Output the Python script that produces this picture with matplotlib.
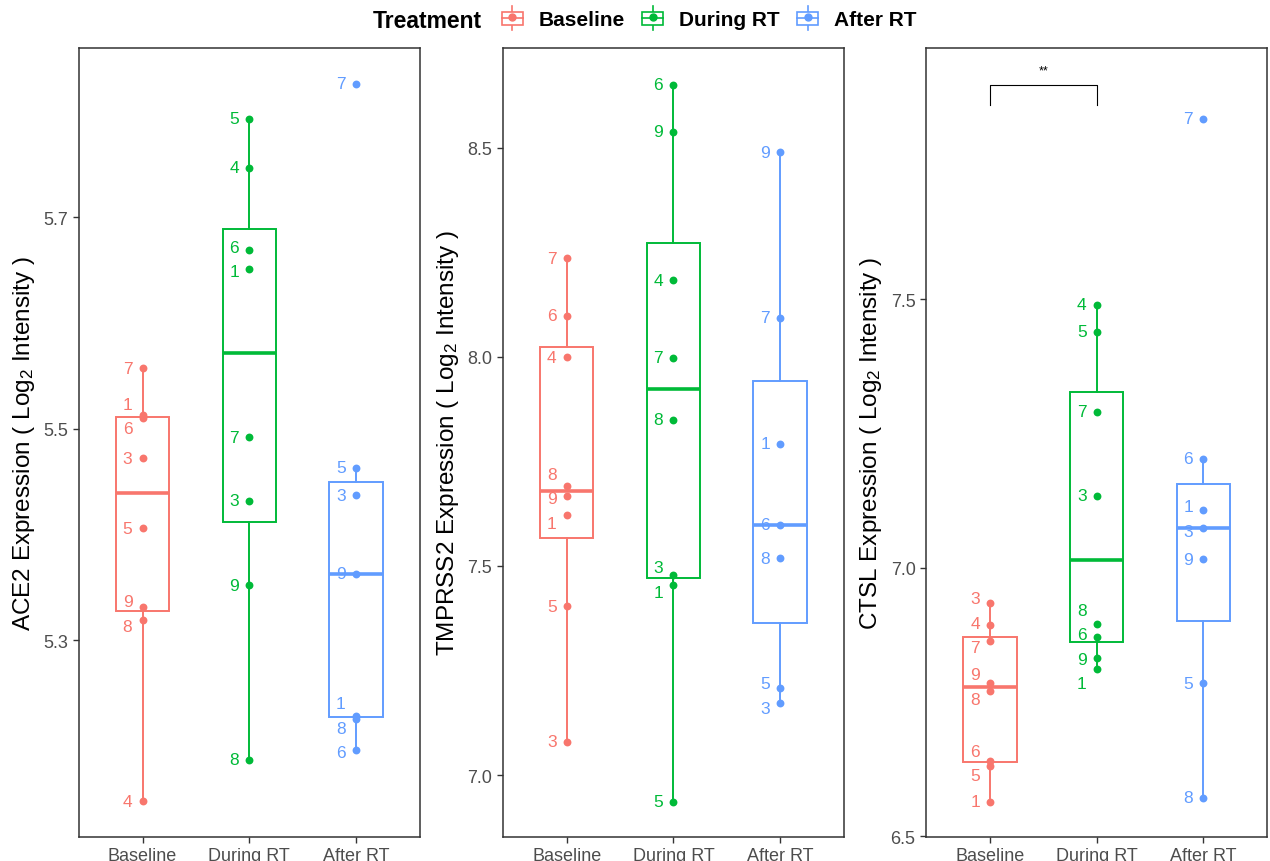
import matplotlib
matplotlib.use('Agg')
import matplotlib.pyplot as plt
import numpy as np
from matplotlib.legend_handler import HandlerBase
from matplotlib.patches import Rectangle
from matplotlib.lines import Line2D

plt.rcParams['font.family'] = ['Liberation Sans', 'DejaVu Sans']
plt.rcParams['mathtext.fontset'] = 'custom'
plt.rcParams['mathtext.rm'] = 'Liberation Sans'
plt.rcParams['mathtext.it'] = 'Liberation Sans:italic'

# groups and colours
groups = ['Baseline', 'During RT', 'After RT']
colors = ['#F8766D', '#00BA38', '#619CFF']

# ACE2 (sample id, value) per group
ace2_ids = [[7, 1, 6, 3, 5, 9, 8, 4],
            [5, 4, 6, 1, 7, 3, 9, 8],
            [7, 5, 3, 9, 1, 8, 6]]
ace2_vals = [[5.557, 5.513, 5.510, 5.472, 5.406, 5.331, 5.319, 5.148],
             [5.793, 5.747, 5.669, 5.651, 5.492, 5.432, 5.352, 5.187],
             [5.826, 5.463, 5.437, 5.363, 5.228, 5.226, 5.196]]

# TMPRSS2
tmp_ids = [[7, 6, 4, 8, 9, 1, 5, 3],
           [6, 9, 4, 7, 8, 3, 1, 5],
           [9, 7, 1, 6, 8, 5, 3]]
tmp_vals = [[8.236, 8.098, 7.999, 7.692, 7.668, 7.622, 7.403, 7.080],
            [8.650, 8.538, 8.183, 7.998, 7.849, 7.478, 7.455, 6.936],
            [8.489, 8.093, 7.792, 7.598, 7.518, 7.207, 7.172]]

# CTSL
ctsl_ids = [[3, 4, 7, 9, 8, 6, 5, 1],
            [4, 5, 7, 3, 8, 6, 9, 1],
            [7, 6, 1, 3, 9, 5, 8]]
ctsl_vals = [[6.935, 6.893, 6.864, 6.786, 6.770, 6.641, 6.631, 6.565],
             [7.490, 7.440, 7.291, 7.134, 6.895, 6.872, 6.832, 6.812],
             [7.836, 7.203, 7.108, 7.074, 7.016, 6.785, 6.572]]

panels = [
    ('ACE2', ace2_ids, ace2_vals, (5.114, 5.860), [5.3, 5.5, 5.7]),
    ('TMPRSS2', tmp_ids, tmp_vals, (6.852, 8.738), [7.0, 7.5, 8.0, 8.5]),
    ('CTSL', ctsl_ids, ctsl_vals, (6.499, 7.968), [6.5, 7.0, 7.5]),
]


def repel(ys, sep):
    # push label positions apart (pixel space), like ggrepel in 1D
    order = np.argsort(ys)
    pos = np.array(ys, dtype=float)[order]
    for _ in range(500):
        moved = False
        for i in range(len(pos) - 1):
            gap = pos[i + 1] - pos[i]
            if gap < sep - 1e-6:
                d = (sep - gap) / 2
                pos[i] -= d
                pos[i + 1] += d
                moved = True
        if not moved:
            break
    out = np.empty_like(pos)
    out[order] = pos
    return out


class BoxHandler(HandlerBase):
    def create_artists(self, legend, orig_handle, xdescent, ydescent,
                       width, height, fontsize, trans):
        c = orig_handle.get_color()
        cx = -xdescent + width / 2
        cy = -ydescent + height / 2
        bw, bh, wh = 15.0, 9.6, 17.0
        whisk = Line2D([cx, cx], [cy - wh / 2, cy + wh / 2], color=c, lw=1.2, transform=trans)
        box = Rectangle((cx - bw / 2, cy - bh / 2), bw, bh, facecolor='white',
                        edgecolor=c, lw=1.2, transform=trans)
        med = Line2D([cx - bw / 2, cx + bw / 2], [cy, cy], color=c, lw=1.2, transform=trans)
        dot = Line2D([cx], [cy + 1], marker='o', ms=5, color=c, ls='none', transform=trans)
        return [whisk, box, med, dot]


fig = plt.figure(figsize=(12.7, 8.62), dpi=100)
W, H = 1270, 862
lefts = [78.5, 502.7, 926.0]
wpx = 341.4

axes = []
for k, (gene, ids, vals, ylim, yticks) in enumerate(panels):
    ax = fig.add_axes([lefts[k] / W, 24 / H, wpx / W, 789 / H])
    axes.append(ax)
    ax.set_xlim(0.4, 3.6)
    ax.set_ylim(*ylim)
    for g in range(3):
        c = colors[g]
        ax.boxplot([vals[g]], positions=[g + 1], widths=0.5, showfliers=False,
                   showcaps=False, patch_artist=True,
                   boxprops=dict(facecolor='white', edgecolor=c, lw=1.4),
                   whiskerprops=dict(color=c, lw=1.4),
                   medianprops=dict(color=c, lw=2.6), zorder=2)
        ax.scatter([g + 1] * len(vals[g]), vals[g], s=32, color=c, zorder=3, lw=0)
    ax.set_xticks([1, 2, 3])
    ax.set_xticklabels(groups)
    ax.set_yticks(yticks)
    ax.set_yticklabels(['%.1f' % t for t in yticks])
    ax.tick_params(axis='both', labelsize=13, labelcolor='#4D4D4D', color='#333333',
                   length=4, width=1)
    for s in ax.spines.values():
        s.set_color('#333333')
        s.set_linewidth(1.1)
    ax.set_ylabel(gene + ' Expression ( Log$_2$ Intensity )', fontsize=17.5, color='black')
    ax.yaxis.set_label_coords(-0.122, 0.5)

# point labels, placed after the layout is fixed
for k, (gene, ids, vals, ylim, yticks) in enumerate(panels):
    ax = axes[k]
    for g in range(3):
        pts = np.column_stack([[g + 1] * len(vals[g]), vals[g]])
        disp = ax.transData.transform(pts)
        ny = repel(disp[:, 1], 24.5)
        inv = ax.transData.inverted()
        for i, sid in enumerate(ids[g]):
            tx, ty = inv.transform((disp[i, 0] - 15, ny[i]))
            ax.text(tx, ty, str(sid), color=colors[g], fontsize=12.5,
                    ha='center', va='center', zorder=4)

# significance bracket on CTSL
ax = axes[2]
ax.plot([1, 1, 2, 2], [7.861, 7.900, 7.900, 7.861], color='black', lw=0.8)
ax.text(1.5, 7.915, '**', ha='center', va='bottom', fontsize=9)

# legend on top
fig.text(373 / W, 1 - 21 / H, 'Treatment', fontsize=16.5, fontweight='bold',
         ha='left', va='center')
handles = [Line2D([], [], color=c) for c in colors]
fig.legend(handles, groups, handler_map={Line2D: BoxHandler()},
           loc='center left', bbox_to_anchor=(501.5 / W, 1 - 21 / H),
           ncol=3, frameon=False, borderpad=0, borderaxespad=0,
           handlelength=1.05, handletextpad=0.75, columnspacing=0.8,
           prop={'size': 15, 'weight': 'bold'})

fig.savefig('out.png', dpi=100)
